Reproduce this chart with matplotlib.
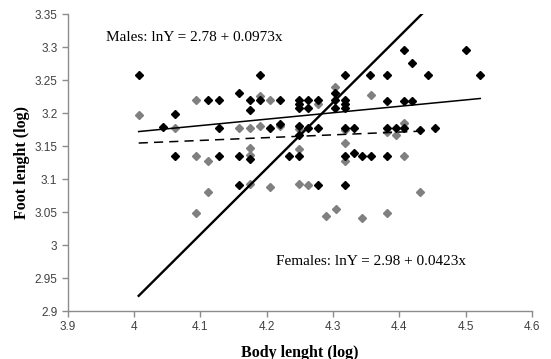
import matplotlib
matplotlib.use("Agg")
import matplotlib.pyplot as plt
import numpy as np
from matplotlib.ticker import FuncFormatter

# Males (black diamonds)
male_x = [4.007, 4.043, 4.061, 4.061, 4.111, 4.128, 4.128, 4.128, 4.159, 4.159,
          4.159, 4.175, 4.175, 4.175, 4.190, 4.190, 4.205, 4.220, 4.220, 4.234,
          4.249, 4.249, 4.249, 4.249, 4.249, 4.249, 4.263, 4.263, 4.263, 4.277,
          4.277, 4.277, 4.303, 4.303, 4.303, 4.318, 4.318, 4.318, 4.318, 4.318,
          4.318, 4.318, 4.331, 4.331, 4.343, 4.356, 4.357, 4.382, 4.382, 4.382,
          4.382, 4.395, 4.407, 4.407, 4.407, 4.419, 4.419, 4.431, 4.443, 4.454,
          4.501, 4.522]
male_y = [3.258, 3.179, 3.198, 3.135, 3.219, 3.219, 3.178, 3.135, 3.230, 3.135,
          3.091, 3.219, 3.205, 3.130, 3.258, 3.219, 3.178, 3.219, 3.184, 3.135,
          3.219, 3.213, 3.207, 3.181, 3.166, 3.135, 3.219, 3.207, 3.178, 3.219,
          3.178, 3.091, 3.230, 3.219, 3.207, 3.258, 3.219, 3.213, 3.207, 3.178,
          3.135, 3.091, 3.178, 3.139, 3.135, 3.258, 3.135, 3.258, 3.218, 3.178,
          3.135, 3.178, 3.295, 3.218, 3.178, 3.276, 3.218, 3.174, 3.258, 3.178,
          3.295, 3.258]

# Females (grey diamonds)
female_x = [4.007, 4.061, 4.093, 4.093, 4.094, 4.111, 4.111, 4.159, 4.175, 4.175,
            4.175, 4.175, 4.190, 4.190, 4.205, 4.205, 4.220, 4.249, 4.249, 4.249,
            4.263, 4.277, 4.290, 4.303, 4.304, 4.318, 4.318, 4.318, 4.344, 4.357,
            4.382, 4.382, 4.395, 4.407, 4.407, 4.431]
female_y = [3.197, 3.178, 3.219, 3.135, 3.048, 3.128, 3.081, 3.178, 3.178, 3.147,
            3.136, 3.092, 3.226, 3.180, 3.219, 3.088, 3.180, 3.176, 3.145, 3.092,
            3.091, 3.213, 3.044, 3.239, 3.055, 3.175, 3.155, 3.127, 3.041, 3.228,
            3.171, 3.048, 3.167, 3.185, 3.135, 3.081]

# Fitted lines: (intercept, slope, x_start, x_end)
male_fit = (2.782, 0.0973, 4.007, 4.522)
female_fit = (2.985, 0.0423, 4.007, 4.430)
ref_fit = (-1.084, 1.0, 4.007, 4.434)

male_label = "Males: lnY = 2.78 + 0.0973x"
female_label = "Females: lnY = 2.98 + 0.0423x"
x_ticks = [3.9, 4.0, 4.1, 4.2, 4.3, 4.4, 4.5, 4.6]
y_ticks = [2.9, 2.95, 3.0, 3.05, 3.1, 3.15, 3.2, 3.25, 3.3, 3.35]

fig = plt.figure(figsize=(5.51, 3.59), dpi=100)
ax = fig.add_axes([0.1229, 0.1337, 0.8426, 0.8273])

grey = "#808080"
ax.plot(female_x, female_y, linestyle="none", marker="D", ms=4.2,
        color=grey, mec=grey, zorder=3)
ax.plot(male_x, male_y, linestyle="none", marker="D", ms=4.2,
        color="black", mec="black", zorder=4)

def draw_fit(fit, **kw):
    a, b, x0, x1 = fit
    xs = np.array([x0, x1])
    ax.plot(xs, a + b * xs, **kw)

draw_fit(male_fit, color="black", lw=1.1, zorder=5)
draw_fit(female_fit, color="black", lw=1.1, ls=(0, (6, 4)), zorder=5)
draw_fit(ref_fit, color="black", lw=1.7, zorder=5)

ax.set_xlim(3.9, 4.6)
ax.set_ylim(2.9, 3.35)
ax.set_xticks(x_ticks)
ax.set_yticks(y_ticks)
ax.xaxis.set_major_formatter(FuncFormatter(lambda v, p: f"{v:g}"))
ax.yaxis.set_major_formatter(FuncFormatter(lambda v, p: f"{v:g}"))

for s in ["top", "right"]:
    ax.spines[s].set_visible(False)
for s in ["left", "bottom"]:
    ax.spines[s].set_color("#8c8c8c")
    ax.spines[s].set_linewidth(1.0)
ax.tick_params(axis="both", colors="#8c8c8c", labelcolor="#404040",
               labelsize=8.5, length=4, width=1.0, direction="out")
for lab in ax.get_xticklabels() + ax.get_yticklabels():
    lab.set_family("Liberation Sans")

serif = "Liberation Serif"
ax.set_xlabel("Body lenght (log)", family=serif, fontweight="bold",
              fontsize=11.5, labelpad=8)
ax.set_ylabel("Foot lenght (log)", family=serif, fontweight="bold",
              fontsize=11.5, labelpad=3)

ax.text(3.957, 3.315, male_label, family=serif, fontsize=11, va="center", ha="left")
ax.text(4.214, 2.975, female_label, family=serif, fontsize=11, va="center", ha="left")

fig.savefig("out.png", dpi=100)
